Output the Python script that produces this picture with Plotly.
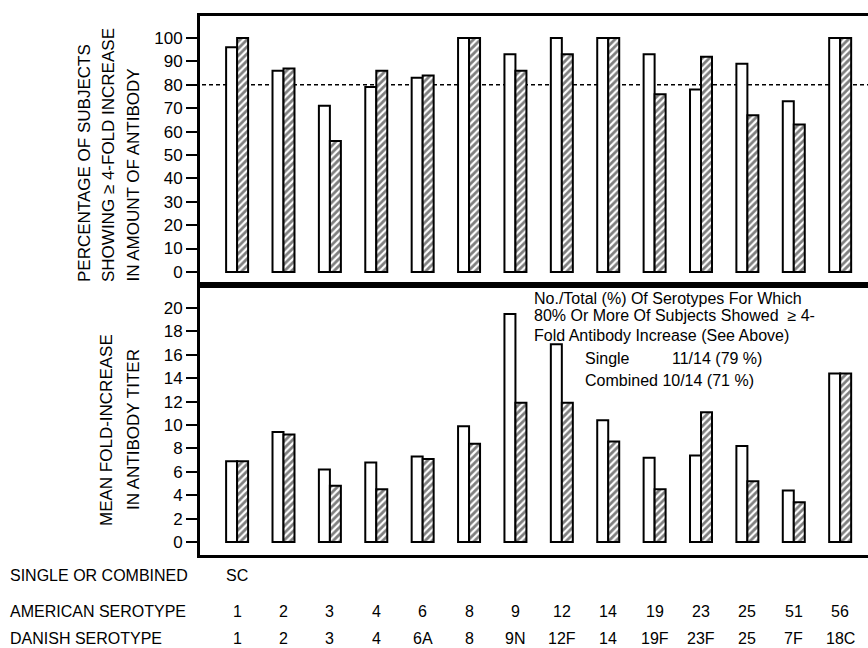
import plotly.graph_objects as go

american = ["1", "2", "3", "4", "6", "8", "9", "12", "14", "19", "23", "25", "51", "56"]
danish = ["1", "2", "3", "4", "6A", "8", "9N", "12F", "14", "19F", "23F", "25", "7F", "18C"]
pct_single = [96, 86, 71, 79, 83, 100, 93, 100, 100, 93, 78, 89, 73, 100]
pct_combined = [100, 87, 56, 86, 84, 100, 86, 93, 100, 76, 92, 67, 63, 100]
fold_single = [6.9, 9.4, 6.2, 6.8, 7.3, 9.9, 19.5, 16.9, 10.4, 7.2, 7.4, 8.2, 4.4, 14.4]
fold_combined = [6.9, 9.2, 4.8, 4.5, 7.1, 8.4, 11.9, 11.9, 8.6, 4.5, 11.1, 5.2, 3.4, 14.4]
threshold = 80

W, H = 868, 648
FONT = "Liberation Sans"


def px(x):
    return x / W


def py(y):
    return 1 - y / H


line = dict(color="black", width=2)
hatch = dict(shape="/", fgcolor="black", bgcolor="white", size=5, solidity=0.55)

fig = go.Figure()
fig.add_bar(x=american, y=pct_single, xaxis="x", yaxis="y",
            marker=dict(color="white", line=line), showlegend=False)
fig.add_bar(x=american, y=pct_combined, xaxis="x", yaxis="y",
            marker=dict(color="white", line=line, pattern=hatch), showlegend=False)
fig.add_bar(x=american, y=fold_single, xaxis="x2", yaxis="y2",
            marker=dict(color="white", line=line), showlegend=False)
fig.add_bar(x=american, y=fold_combined, xaxis="x2", yaxis="y2",
            marker=dict(color="white", line=line, pattern=hatch), showlegend=False)

xcommon = dict(type="category", range=[-0.8, 13.6], showticklabels=False, ticks="",
               showgrid=False, zeroline=False, showline=True, linecolor="black",
               linewidth=3, mirror=True, domain=[px(200), 1])
ycommon = dict(showgrid=False, zeroline=False, showline=True, linecolor="black",
               linewidth=3, ticks="outside", ticklen=11, tickwidth=1.5,
               tickcolor="black", tickfont=dict(family=FONT, size=17, color="black"))

fig.update_layout(
    width=W, height=H,
    margin=dict(l=0, r=0, t=0, b=0),
    paper_bgcolor="white", plot_bgcolor="white",
    barmode="group", bargap=0.526, bargroupgap=0,
    font=dict(family=FONT, color="black"),
    xaxis=dict(xcommon, anchor="y"),
    xaxis2=dict(xcommon, anchor="y2", matches="x"),
    yaxis=dict(ycommon, anchor="x", domain=[py(285), py(16)], range=[-5.6, 109.4],
               tickvals=list(range(0, 101, 10))),
    yaxis2=dict(ycommon, anchor="x2", domain=[py(555), py(285)], range=[-1.11, 21.97],
                tickvals=list(range(0, 21, 2))),
)

fig.add_shape(type="line", xref="paper", yref="y", x0=px(202), x1=1, y0=threshold, y1=threshold,
              line=dict(color="black", width=1.4, dash="4px,3px"), layer="below")

ann = []
# y-axis titles
for x, t in [(85, "PERCENTAGE OF SUBJECTS"), (109, "SHOWING ≥ 4-FOLD INCREASE"),
             (133, "IN AMOUNT OF ANTIBODY")]:
    ann.append(dict(text=t, x=px(x), y=py(284), xref="paper", yref="paper", textangle=-90,
                    xanchor="center", yanchor="bottom", showarrow=False,
                    font=dict(family=FONT, size=17)))
for x, t in [(107, "MEAN FOLD-INCREASE"), (134, "IN ANTIBODY TITER")]:
    ann.append(dict(text=t, x=px(x), y=py(430), xref="paper", yref="paper", textangle=-90,
                    xanchor="center", yanchor="middle", showarrow=False,
                    font=dict(family=FONT, size=17)))

# note text
for x, y, t in [(532, 298, "No./Total (%) Of Serotypes For Which"),
                (532, 316, "80% Or More Of Subjects Showed  ≥ 4-"),
                (532, 335, "Fold Antibody Increase (See Above)"),
                (583, 358, "Single"), (670, 358, "11/14 (79 %)"),
                (583, 381, "Combined 10/14 (71 %)")]:
    ann.append(dict(text=t, x=px(x), y=py(y), xref="paper", yref="paper",
                    xanchor="left", yanchor="middle", showarrow=False,
                    font=dict(family=FONT, size=16)))

# row labels
for y, t in [(575, "SINGLE OR COMBINED"), (611, "AMERICAN SEROTYPE"), (638, "DANISH SEROTYPE")]:
    ann.append(dict(text=t, x=px(8), y=py(y), xref="paper", yref="paper",
                    xanchor="left", yanchor="middle", showarrow=False,
                    font=dict(family=FONT, size=16)))
ann.append(dict(text="SC", x=0, y=py(575), xref="x2", yref="paper",
                xanchor="center", yanchor="middle", showarrow=False,
                font=dict(family=FONT, size=16)))
for i, (a, d) in enumerate(zip(american, danish)):
    ann.append(dict(text=a, x=i, y=py(611), xref="x2", yref="paper", xanchor="center",
                    yanchor="middle", showarrow=False, font=dict(family=FONT, size=16)))
    ann.append(dict(text=d, x=i, y=py(638), xref="x2", yref="paper", xanchor="center",
                    yanchor="middle", showarrow=False, font=dict(family=FONT, size=16)))
fig.update_layout(annotations=ann)

fig.write_html("out.html", config={"displayModeBar": False},
               post_script="document.body.style.margin='0';document.body.style.overflow='hidden';")
